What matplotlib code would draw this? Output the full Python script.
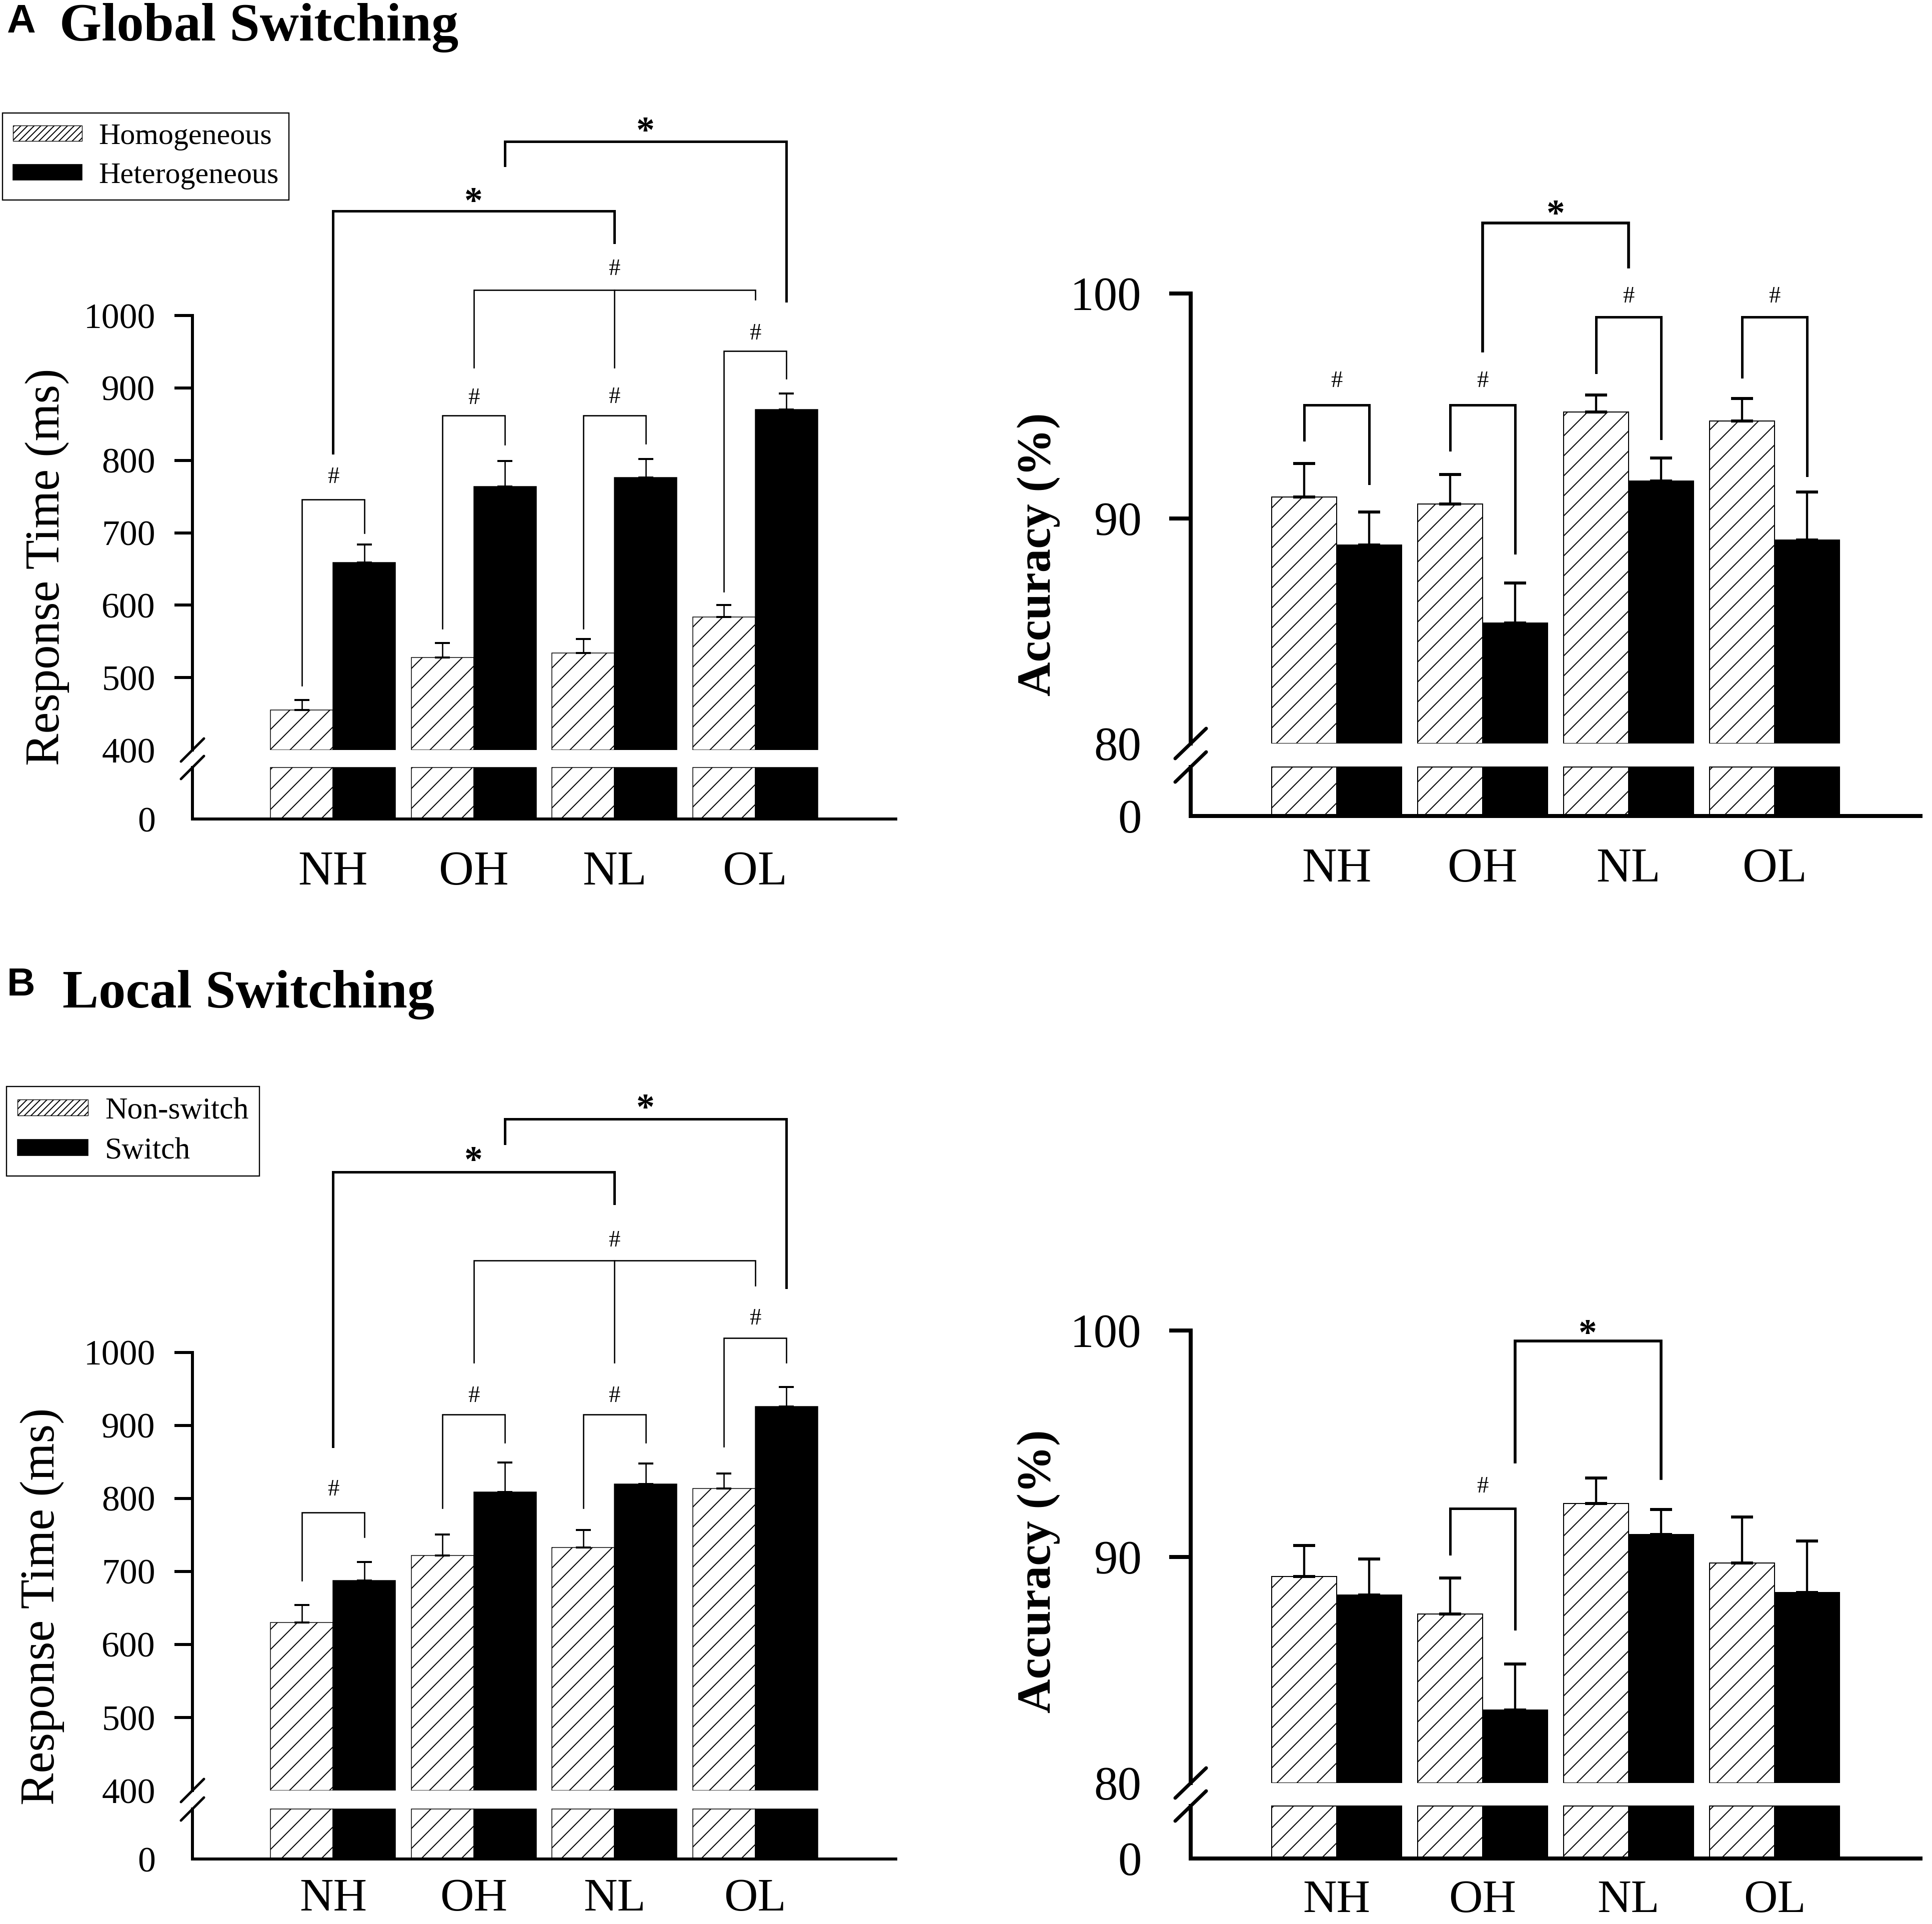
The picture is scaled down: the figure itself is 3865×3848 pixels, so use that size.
import numpy as np
import matplotlib
matplotlib.use('Agg')
import matplotlib.pyplot as plt
from matplotlib.patches import Patch
from matplotlib.lines import Line2D
from matplotlib.transforms import offset_copy

W, H, DPI = 3865, 3848, 120
SERIF = 'Liberation Serif'
plt.rcParams['font.family'] = SERIF
plt.rcParams['hatch.linewidth'] = 1.2
plt.rcParams['hatch.color'] = 'black'

categories = ['NH', 'OH', 'NL', 'OL']

# A: global switching, response time (ms)
rt_glob_homo = [455, 528, 534, 584]
rt_glob_homo_err = [14, 20, 19, 16]
rt_glob_hetero = [659, 764, 776, 870]
rt_glob_hetero_err = [25, 35, 26, 22]

# A: global switching, accuracy (%)
acc_glob_homo = [90.96, 90.64, 94.74, 94.34]
acc_glob_homo_err = [1.49, 1.32, 0.75, 1.00]
acc_glob_hetero = [88.83, 85.36, 91.66, 89.04]
acc_glob_hetero_err = [1.45, 1.77, 1.04, 2.13]

# B: local switching, response time (ms)
rt_loc_nonsw = [630, 722, 733, 814]
rt_loc_nonsw_err = [24, 29, 24, 20]
rt_loc_sw = [688, 809, 820, 926]
rt_loc_sw_err = [25, 40, 28, 27]

# B: local switching, accuracy (%)
acc_loc_nonsw = [89.12, 87.46, 92.36, 89.72]
acc_loc_nonsw_err = [1.37, 1.60, 1.12, 2.03]
acc_loc_sw = [88.30, 83.23, 90.98, 88.41]
acc_loc_sw_err = [1.60, 2.03, 1.10, 2.28]

# significance brackets: (left leg, right leg, top, mark, mark centre, middle stem)
# leg = (group, slot, bottom) with slot h = hatched bar, b = black bar, c = group centre
rt_glob_brackets = [
    ((0, 'h', 489), (0, 'b', 700), 746, '#', 780, None),
    ((1, 'h', 568), (1, 'b', 822), 862, '#', 889, None),
    ((2, 'h', 568), (2, 'b', 823), 862, '#', 890, None),
    ((3, 'h', 619), (3, 'b', 913), 951, '#', 978, None),
    ((1, 'c', 928), (3, 'c', 1022), 1035, '#', 1067, (2, 'c', 928)),
    ((0, 'c', 810), (2, 'c', 1101), 1144, '*', 1166, None),
    ((1, 'b', 1207), (3, 'b', 1020), 1240, '*', 1263, None),
]
acc_glob_brackets = [
    ((0, 'h', 93.5), (0, 'b', 91.55), 95.04, '#', 96.2, None),
    ((1, 'h', 93.04), (1, 'b', 88.47), 95.04, '#', 96.2, None),
    ((2, 'h', 96.49), (2, 'b', 93.55), 98.96, '#', 99.96, None),
    ((3, 'h', 96.28), (3, 'b', 91.91), 98.96, '#', 99.96, None),
    ((1, 'c', 97.45), (2, 'c', 101.17), 103.13, '*', 103.8, None),
]
rt_loc_brackets = [
    ((0, 'h', 688), (0, 'b', 747), 781, '#', 815, None),
    ((1, 'h', 787), (1, 'b', 877), 915, '#', 943, None),
    ((2, 'h', 787), (2, 'b', 877), 915, '#', 943, None),
    ((3, 'h', 871), (3, 'b', 986), 1020, '#', 1049, None),
    ((1, 'c', 986), (3, 'c', 1092), 1126, '#', 1156, (2, 'c', 986)),
    ((0, 'c', 871), (2, 'c', 1204), 1247, '*', 1271, None),
    ((1, 'b', 1286), (3, 'b', 1089), 1320, '*', 1343, None),
]
acc_loc_brackets = [
    ((1, 'h', 90.12), (1, 'b', 86.8), 92.14, '#', 93.2, None),
    ((1, 'b', 94.19), (2, 'b', 93.45), 99.54, '*', 100.13, None),
]

BW = 0.444
x = np.arange(len(categories))

left_style = dict(spine=3.6, tlen=21.6, tsize=43, tpad=23, elw=1.6, cap=9, capw=2.4,
                  blw={'#': 1.6, '*': 3.0}, slw=3.0, slash=(23, 23), edge=0.9)
right_style = dict(spine=4.8, tlen=26, tsize=57, tpad=33, elw=2.6, cap=13, capw=3.6,
                   blw={'#': 3.0, '*': 3.4}, slw=4.2, slash=(31, 30), edge=1.2)

fig = plt.figure(figsize=(W / DPI, H / DPI), dpi=DPI)


def box(x0, x1, ytop, ybot):
    return [x0 / W, 1 - ybot / H, (x1 - x0) / W, (ybot - ytop) / H]


def xpos(g, slot):
    return g + {'h': -BW / 2, 'b': BW / 2, 'c': 0.0}[slot]


def slash(ax, yfrac, st):
    cx, cy = ax.transAxes.transform((0, yfrac))
    dx, dy = st['slash']
    pts = fig.transFigure.inverted().transform([(cx - dx, cy - dy), (cx + dx, cy + dy)])
    fig.add_artist(Line2D(pts[:, 0], pts[:, 1], color='black', lw=st['slw'],
                          solid_capstyle='round'))


def panel(top, bot, lo, hi, ticks, v1, e1, v2, e2, brackets, st, xpad, xsize):
    ax = fig.add_axes(box(*top))
    axb = fig.add_axes(box(*bot))
    v1, v2 = np.array(v1), np.array(v2)
    for a in (ax, axb):
        a.set_xlim(-1, 4)
        for s in ('top', 'right'):
            a.spines[s].set_visible(False)
        a.spines['left'].set_linewidth(st['spine'])
    ax.spines['bottom'].set_visible(False)
    axb.spines['bottom'].set_linewidth(st['spine'])

    # upper part of the broken axis
    ax.bar(x - BW / 2, v1 - lo, BW, bottom=lo, color='white', edgecolor='black',
           hatch='/', lw=st['edge'])
    ax.bar(x + BW / 2, v2 - lo, BW, bottom=lo, color='black', edgecolor='black',
           lw=st['edge'])
    for xs, v, e in ((x - BW / 2, v1, e1), (x + BW / 2, v2, e2)):
        ax.errorbar(xs, v, yerr=[np.zeros(len(e)), e], fmt='none', ecolor='black',
                    elinewidth=st['elw'], capsize=st['cap'], capthick=st['capw'])
    ax.set_ylim(lo, hi)
    ax.set_yticks(ticks)
    ax.set_yticklabels([str(t) for t in ticks])
    ax.set_xticks([])
    ax.tick_params(axis='y', length=st['tlen'], width=st['spine'], pad=st['tpad'],
                   labelsize=st['tsize'])
    ax.yaxis.get_major_ticks()[0].tick1line.set_visible(False)

    # stub from zero
    axb.bar(x - BW / 2, np.minimum(v1, lo), BW, color='white', edgecolor='black',
            hatch='/', lw=st['edge'], clip_on=False)
    axb.bar(x + BW / 2, np.minimum(v2, lo), BW, color='black', edgecolor='black',
            lw=st['edge'], clip_on=False)
    axb.set_ylim(0, lo)
    axb.set_yticks([0])
    axb.set_yticklabels(['0'])
    axb.tick_params(axis='y', length=st['tlen'], width=st['spine'], pad=st['tpad'],
                    labelsize=st['tsize'])
    axb.yaxis.get_major_ticks()[0].tick1line.set_visible(False)
    axb.set_xticks(x)
    axb.set_xticklabels(categories)
    axb.tick_params(axis='x', length=0, pad=xpad, labelsize=xsize)

    slash(ax, 0, st)
    slash(axb, 1, st)

    for (l, r, ytop, mark, ymark, stem) in brackets:
        xl, xr = xpos(l[0], l[1]), xpos(r[0], r[1])
        lw = st['blw'][mark]
        ax.plot([xl, xl, xr, xr], [l[2], ytop, ytop, r[2]], color='black', lw=lw,
                clip_on=False, solid_joinstyle='miter')
        if stem is not None:
            xs = xpos(stem[0], stem[1])
            ax.plot([xs, xs], [ytop, stem[2]], color='black', lw=lw, clip_on=False)
        if mark == '#':
            tr = offset_copy(ax.transData, fig=fig, y=-16, units='dots')
            ax.text((xl + xr) / 2, ymark, '#', transform=tr, ha='center', va='baseline',
                    fontsize=28, clip_on=False)
        else:
            tr = offset_copy(ax.transData, fig=fig, y=-34, units='dots')
            ax.text((xl + xr) / 2, ymark, '*', transform=tr, ha='center', va='baseline',
                    fontsize=44, fontweight='bold', clip_on=False)
    return ax, axb


rt_ticks = [400, 500, 600, 700, 800, 900, 1000]
acc_ticks = [80, 90, 100]

panel((385, 1792, 631, 1500), (385, 1792, 1535, 1638), 400, 1000, rt_ticks,
      rt_glob_homo, rt_glob_homo_err, rt_glob_hetero, rt_glob_hetero_err,
      rt_glob_brackets, left_style, 38, 58)
panel((2382, 3842, 587, 1487), (2382, 3842, 1534, 1632), 80, 100, acc_ticks,
      acc_glob_homo, acc_glob_homo_err, acc_glob_hetero, acc_glob_hetero_err,
      acc_glob_brackets, right_style, 38, 58)
panel((385, 1792, 2705, 3581), (385, 1792, 3618, 3718), 400, 1000, rt_ticks,
      rt_loc_nonsw, rt_loc_nonsw_err, rt_loc_sw, rt_loc_sw_err,
      rt_loc_brackets, left_style, 23, 56)
panel((2382, 3842, 2661, 3566), (2382, 3842, 3612, 3717), 80, 100, acc_ticks,
      acc_loc_nonsw, acc_loc_nonsw_err, acc_loc_sw, acc_loc_sw_err,
      acc_loc_brackets, right_style, 25, 56)

# axis titles
fig.text(95 / W, 1 - 1134 / H, 'Response Time (ms)', rotation=90, ha='center',
         va='center', fontsize=58)
fig.text(85 / W, 1 - 3213 / H, 'Response Time (ms)', rotation=90, ha='center',
         va='center', fontsize=58)
fig.text(2078 / W, 1 - 1109 / H, 'Accuracy (%)', rotation=90, ha='center',
         va='center', fontsize=57, fontweight='bold')
fig.text(2078 / W, 1 - 3143 / H, 'Accuracy (%)', rotation=90, ha='center',
         va='center', fontsize=57, fontweight='bold')

# panel headings
fig.text(14 / W, 1 - 65 / H, 'A', fontsize=48, fontweight='bold',
         family='Liberation Sans', va='baseline')
fig.text(119 / W, 1 - 81 / H, 'Global Switching', fontsize=65, fontweight='bold',
         va='baseline')
fig.text(14 / W, 1 - 1991 / H, 'B', fontsize=47, fontweight='bold',
         family='Liberation Sans', va='baseline')
fig.text(125 / W, 1 - 2015 / H, 'Local Switching', fontsize=65, fontweight='bold',
         va='baseline')


# legends
def legend(labels, x0, ytop, size):
    handles = [Patch(facecolor='white', edgecolor='black', hatch='///', lw=0.8),
               Patch(facecolor='black', edgecolor='black')]
    leg = fig.legend(handles, labels, loc='upper left',
                     bbox_to_anchor=(x0 / W, 1 - ytop / H), borderaxespad=0,
                     fancybox=False, edgecolor='black', framealpha=1, fontsize=size,
                     handlelength=2.3, handleheight=0.42, handletextpad=0.55,
                     labelspacing=0.4, borderpad=0.35)
    leg.get_frame().set_linewidth(1.4)


legend(['Homogeneous', 'Heterogeneous'], 5, 226, 36)
legend(['Non-switch', 'Switch'], 13, 2173, 37)

fig.savefig('out.png', dpi=DPI, facecolor='white')
